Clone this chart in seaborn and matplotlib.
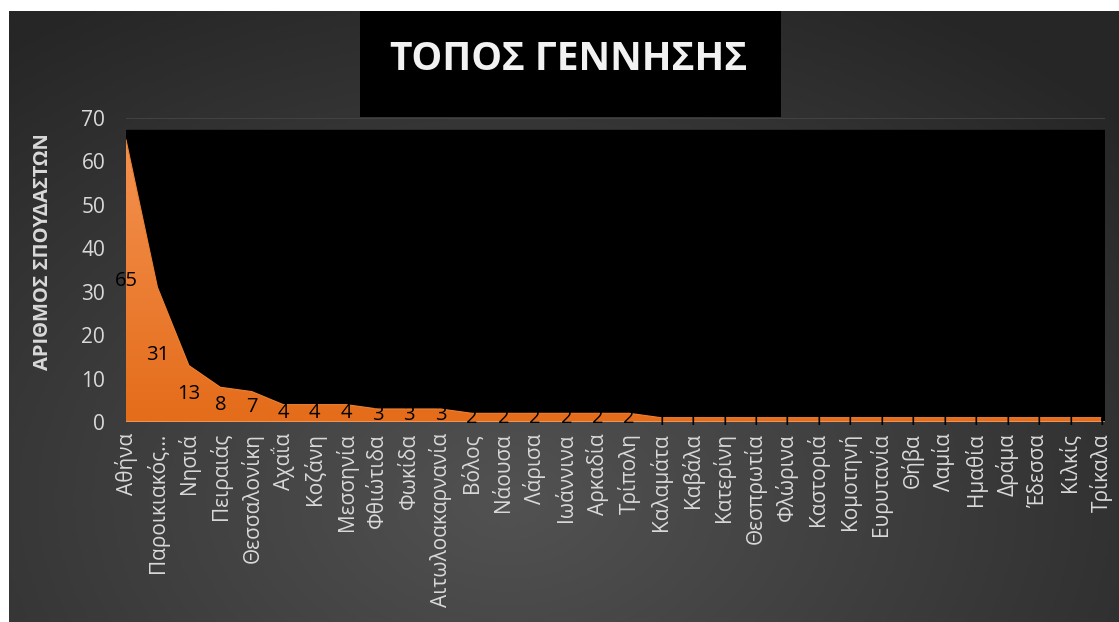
import numpy as np
import pandas as pd
import matplotlib
matplotlib.use("Agg")
import matplotlib.pyplot as plt
import seaborn as sns
from matplotlib.patches import Rectangle, PathPatch
from matplotlib.colors import LinearSegmentedColormap

places = ["Αθήνα", "Παροικιακός...", "Νησιά", "Πειραιάς", "Θεσσαλονίκη", "Αχαΐα",
          "Κοζάνη", "Μεσσηνία", "Φθιώτιδα", "Φωκίδα", "Αιτωλοακαρνανία", "Βόλος",
          "Νάουσα", "Λάρισα", "Ιωάννινα", "Αρκαδία", "Τρίπολη", "Καλαμάτα",
          "Καβάλα", "Κατερίνη", "Θεσπρωτία", "Φλώρινα", "Καστοριά", "Κομοτηνή",
          "Ευρυτανία", "Θήβα", "Λαμία", "Ημαθία", "Δράμα", "Έδεσσα", "Κιλκίς", "Τρίκαλα"]
counts = [65, 31, 13, 8, 7, 4, 4, 4, 3, 3, 3, 2, 2, 2, 2, 2, 2, 1,
          1, 1, 1, 1, 1, 1, 1, 1, 1, 1, 1, 1, 1, 1]
y_ticks = [0, 10, 20, 30, 40, 50, 60, 70]
title = "ΤΟΠΟΣ ΓΕΝΝΗΣΗΣ"
y_label = "ΑΡΙΘΜΟΣ ΣΠΟΥΔΑΣΤΩΝ"

sns.set_theme(style="dark")
plt.rcParams['font.family'] = ['Open Sans', 'DejaVu Sans']

W, H = 1119, 622
fig = plt.figure(figsize=(W / 100, H / 100), dpi=100, facecolor="white")

# background gradient panel
bg = fig.add_axes([9 / W, 0, 1 - 9 / W, 1 - 11 / H], zorder=0)
gx, gy = np.meshgrid(np.linspace(0, 1, 400), np.linspace(0, 1, 250))
r = np.sqrt(((gx - 0.45) / 0.75) ** 2 + ((gy - 0.2) / 0.95) ** 2)
r = np.clip(r, 0, 1)
bgcmap = LinearSegmentedColormap.from_list("bg", ["#525252", "#262626"])
bg.imshow(r, cmap=bgcmap, extent=[0, 1, 0, 1], origin="lower", aspect="auto",
          vmin=0, vmax=1)
bg.set_axis_off()

# title box
fig.patches.append(Rectangle((360 / W, 1 - 117 / H), 421 / W, 106 / H,
                             transform=fig.transFigure, facecolor="black",
                             edgecolor="none", zorder=1))
fig.text(569 / W, 1 - 59 / H, title, ha="center", va="center", color="#F2F2F2",
         fontsize=28, fontweight="bold", zorder=3)

ax = fig.add_axes([126 / W, 1 - 422 / H, (1105 - 126) / W, (422 - 118) / H], zorder=2)
ax.set_facecolor("none")
n = len(places)
x = np.arange(n)
df = pd.DataFrame({"x": x, "count": counts})

ax.axhspan(0, 67.2, color="black", zorder=0.5)
ax.axhline(70, color="#464646", lw=1.2, zorder=0.4)

sns.lineplot(data=df, x="x", y="count", ax=ax, color="#EE8232", lw=0.8, zorder=3)
poly = ax.fill_between(x, counts, 0, color="none", lw=0)
path = poly.get_paths()[0]
patch = PathPatch(path, transform=ax.transData, facecolor="none", edgecolor="none")
ax.add_patch(patch)
grad = np.linspace(0, 1, 256).reshape(-1, 1)
areacmap = LinearSegmentedColormap.from_list("area", ["#E46C1A", "#F49250"])
im = ax.imshow(grad, cmap=areacmap, extent=[0, n - 1, 0, max(counts)], origin="lower",
               aspect="auto", zorder=2)
im.set_clip_path(patch)
ax.axhline(0, color="#F2A06A", lw=1.8, zorder=4)

for xi, v in zip(x, counts):
    ax.text(xi, v / 2, str(v), ha="center", va="center", color="black",
            fontsize=14.5, zorder=5)

ax.set_xlim(0, (1105 - 126) / ((1101 - 126) / (n - 1)))
ax.set_ylim(0, 70)
ax.set_xticks(x)
ax.set_xticklabels(places, rotation=90, color="#D9D9D9", fontsize=15)
ax.set_yticks(y_ticks)
ax.set_yticklabels([str(t) for t in y_ticks], color="#D9D9D9", fontsize=15)
ax.tick_params(axis="both", length=0)
ax.tick_params(axis="y", pad=15)
ax.tick_params(axis="x", pad=8)
ax.grid(False)
for s in ax.spines.values():
    s.set_visible(False)
ax.set_xlabel("")
ax.set_ylabel(y_label, color="#D9D9D9", fontsize=14.5, fontweight="bold")
ax.yaxis.set_label_coords(-0.0745, 0.56)

fig.savefig("out.png", dpi=100, facecolor="white")
